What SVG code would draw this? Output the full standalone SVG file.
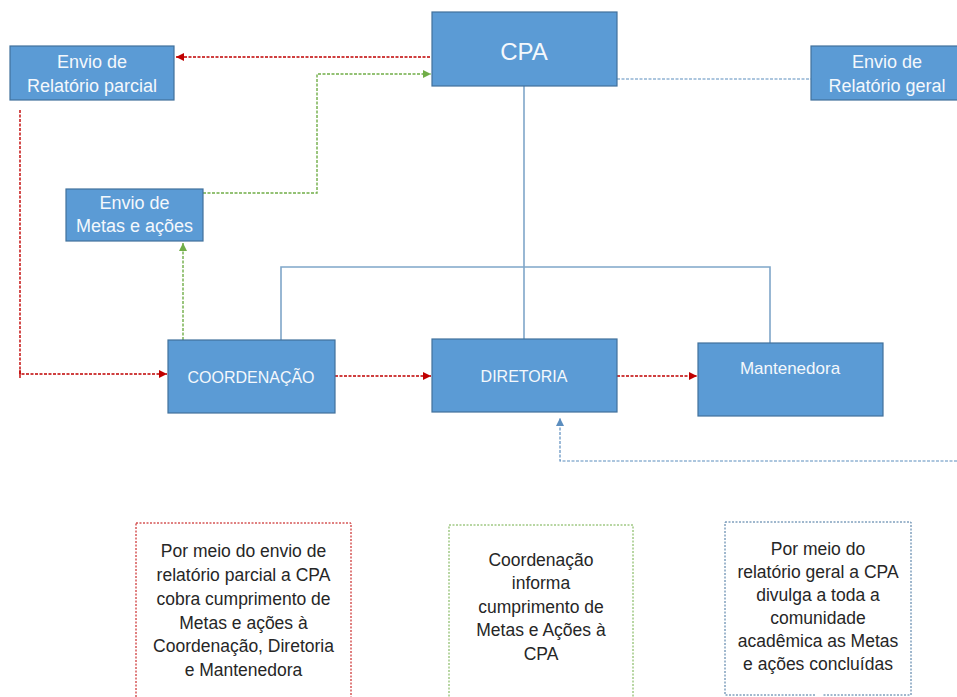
<svg xmlns="http://www.w3.org/2000/svg" width="957" height="697" viewBox="0 0 957 697">
<defs>
<style>
.node{fill:#5B9BD5;stroke:#41719C;stroke-width:1.2}
.nt{font-family:"Liberation Sans",Arial,sans-serif;fill:#F4F8FC;text-anchor:middle}
.bt{font-family:"Liberation Sans",Arial,sans-serif;fill:#262626;text-anchor:middle;font-size:17.5px}
.red{fill:none;stroke:#C00000;stroke-width:1.4;stroke-dasharray:3 1.5}
.grn{fill:none;stroke:#70AD47;stroke-width:1.4;stroke-dasharray:3 1.5}
.bld{fill:none;stroke:#5B8DBE;stroke-width:1.2;stroke-dasharray:3 1.5}
.bls{fill:none;stroke:#7FA6C9;stroke-width:1.6}
</style>
<marker id="ar" viewBox="0 0 10 10" refX="10" refY="5" markerWidth="8" markerHeight="8" markerUnits="userSpaceOnUse" orient="auto"><path d="M0,0L10,5L0,10z" fill="#C00000"/></marker>
<marker id="ag" viewBox="0 0 10 10" refX="10" refY="5" markerWidth="8" markerHeight="8" markerUnits="userSpaceOnUse" orient="auto"><path d="M0,0L10,5L0,10z" fill="#70AD47"/></marker>
<marker id="ab" viewBox="0 0 10 10" refX="10" refY="5" markerWidth="8" markerHeight="8" markerUnits="userSpaceOnUse" orient="auto"><path d="M0,0L10,5L0,10z" fill="#5B8DBE"/></marker>
</defs>
<rect width="957" height="697" fill="#FFFFFF"/>
<g id="connectors">
<path class="red" d="M430,57H176" marker-end="url(#ar)"/>
<path class="grn" d="M203,193H317V74H431" marker-end="url(#ag)"/>
<path class="grn" d="M183,340V243" marker-end="url(#ag)"/>
<path class="red" d="M20,110V374H167" marker-end="url(#ar)"/>
<path d="M20,370V378" stroke="#C00000" stroke-width="1.4"/>
<path class="red" d="M335,376H431" marker-end="url(#ar)"/>
<path class="red" d="M617,376H697" marker-end="url(#ar)"/>
<path class="bls" d="M524,86V339"/>
<path class="bls" d="M281,340V267H770V343"/>
<path class="bld" d="M617,79H811"/>
<path class="bld" d="M957,461H560V418" marker-end="url(#ab)"/>
</g>
<g id="cpa"><rect class="node" x="432" y="12" width="185" height="74"/><text class="nt" x="524" y="60" font-size="24">CPA</text></g>
<g id="relatorio-parcial"><rect class="node" x="10" y="46" width="164" height="54"/><text class="nt" x="92" y="68" font-size="18">Envio de</text><text class="nt" x="92" y="92" font-size="18">Relatório parcial</text></g>
<g id="relatorio-geral"><rect class="node" x="811" y="46" width="150" height="54"/><text class="nt" x="887" y="68" font-size="18">Envio de</text><text class="nt" x="887" y="92" font-size="18">Relatório geral</text></g>
<g id="metas"><rect class="node" x="66" y="189" width="137" height="52"/><text class="nt" x="134.5" y="209" font-size="18">Envio de</text><text class="nt" x="134.5" y="232" font-size="18">Metas e ações</text></g>
<g id="coordenacao"><rect class="node" x="168" y="340" width="167" height="73"/><text class="nt" x="251" y="383" font-size="16">COORDENAÇÃO</text></g>
<g id="diretoria"><rect class="node" x="432" y="339" width="185" height="73"/><text class="nt" x="524" y="382" font-size="16">DIRETORIA</text></g>
<g id="mantenedora"><rect class="node" x="698" y="343" width="185" height="73"/><text class="nt" x="790" y="374" font-size="17">Mantenedora</text></g>
<g id="nota-parcial">
<rect x="136" y="523" width="215" height="180" fill="none" stroke="#C00000" stroke-width="1" stroke-dasharray="2 1.5"/>
<text class="bt" x="243.5" y="557">Por meio do envio de</text>
<text class="bt" x="243.5" y="581">relatório parcial a CPA</text>
<text class="bt" x="243.5" y="605">cobra cumprimento de</text>
<text class="bt" x="243.5" y="629">Metas e ações à</text>
<text class="bt" x="243.5" y="652">Coordenação, Diretoria</text>
<text class="bt" x="243.5" y="676">e Mantenedora</text>
</g>
<g id="nota-coordenacao">
<rect x="449" y="525" width="184" height="180" fill="none" stroke="#70AD47" stroke-width="1" stroke-dasharray="2 1.5"/>
<text class="bt" x="541" y="566">Coordenação</text>
<text class="bt" x="541" y="589">informa</text>
<text class="bt" x="541" y="613">cumprimento de</text>
<text class="bt" x="541" y="636">Metas e Ações à</text>
<text class="bt" x="541" y="660">CPA</text>
</g>
<g id="nota-geral">
<path d="M725,522H911V695H823M815,695H725V522" fill="none" stroke="#41719C" stroke-width="1" stroke-dasharray="2 1.5"/>
<text class="bt" x="818" y="555">Por meio do</text>
<text class="bt" x="818" y="578">relatório geral a CPA</text>
<text class="bt" x="818" y="601">divulga a toda a</text>
<text class="bt" x="818" y="624">comunidade</text>
<text class="bt" x="818" y="647">acadêmica as Metas</text>
<text class="bt" x="818" y="670">e ações concluídas</text>
</g>
</svg>
